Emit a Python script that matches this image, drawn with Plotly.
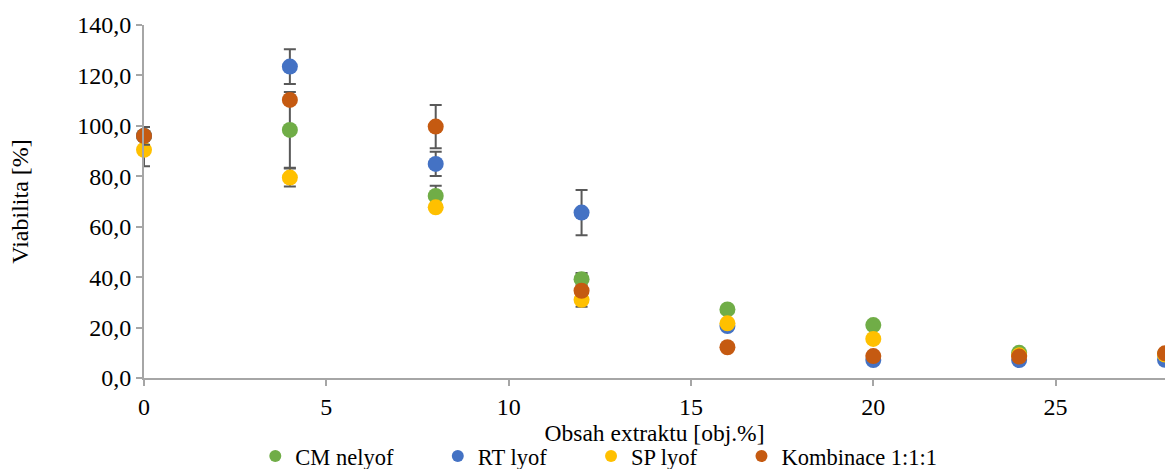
import plotly.graph_objects as go

x = [0, 4, 8, 12, 16, 20, 24, 28]
series_names = ["CM nelyof", "RT lyof", "SP lyof", "Kombinace 1:1:1"]
cm_nelyof = [96.0, 98.4, 72.2, 39.2, 27.2, 21.0, 10.0, 9.5]
cm_err = [0.0, 15.0, 4.0, 2.4, 0.0, 0.0, 0.0, 0.0]
rt_lyof = [96.0, 123.5, 84.9, 65.6, 20.6, 7.1, 7.1, 7.2]
rt_err = [0.0, 6.9, 4.8, 9.0, 0.0, 0.0, 0.0, 0.0]
sp_lyof = [90.5, 79.5, 67.7, 31.0, 21.7, 15.5, 9.0, 9.3]
sp_err = [6.5, 3.6, 0.0, 2.7, 0.0, 0.0, 0.0, 0.0]
komb = [96.0, 110.3, 99.7, 34.6, 12.2, 8.7, 8.5, 9.8]
komb_err = [3.5, 0.0, 8.6, 0.0, 0.0, 0.0, 0.0, 0.0]
colors = ["#70AD47", "#4472C4", "#FFC000", "#C55A11"]
legend_pad = [7, 7, 7, 0]  # non-breaking spaces after each legend name (spacing)

fig = go.Figure()
for name, ys, err, c, pad in zip(series_names, [cm_nelyof, rt_lyof, sp_lyof, komb],
                                 [cm_err, rt_err, sp_err, komb_err], colors, legend_pad):
    fig.add_trace(go.Scatter(
        x=x, y=ys, name=name + "\u00a0" * pad, mode="markers",
        marker=dict(color=c, size=16, line=dict(width=0)),
        error_y=dict(type="data", array=err, visible=True, color="#595959",
                     thickness=2, width=6),
        cliponaxis=False,
    ))

font = "Liberation Serif"
fig.update_layout(
    width=1165, height=469,
    margin=dict(l=144, r=0, t=25, b=91, autoexpand=False),
    paper_bgcolor="white", plot_bgcolor="white",
    separators=", ",
    font=dict(family=font, size=24, color="#000000"),
    showlegend=True,
    legend=dict(orientation="h", x=0.109, xanchor="left", y=-0.222, yanchor="middle",
                font=dict(family=font, size=22.5), itemsizing="constant",
                tracegroupgap=0, itemwidth=30),
    xaxis=dict(range=[0, 28], tickvals=[0, 5, 10, 15, 20, 25], showgrid=False,
               zeroline=False, showline=True, linecolor="#a6a6a6", linewidth=2,
               ticks="outside", tickcolor="#a6a6a6", ticklen=6, tickwidth=2,
               tickfont=dict(size=24),
               title=dict(text="Obsah extraktu [obj.%]", standoff=0,
                          font=dict(size=23.5))),
    yaxis=dict(range=[0, 140], dtick=20, tickformat=".1f", showgrid=False,
               zeroline=False, showline=True, linecolor="#a6a6a6", linewidth=2,
               ticks="outside", tickcolor="#a6a6a6", ticklen=6, tickwidth=2,
               tickfont=dict(size=24),
               title=dict(text="Viabilita [%]", standoff=42,
                          font=dict(size=24))),
)
fig.write_html("out.html", config={"displayModeBar": False},
               post_script="document.body.style.margin='0px';document.body.style.overflow='hidden';")
